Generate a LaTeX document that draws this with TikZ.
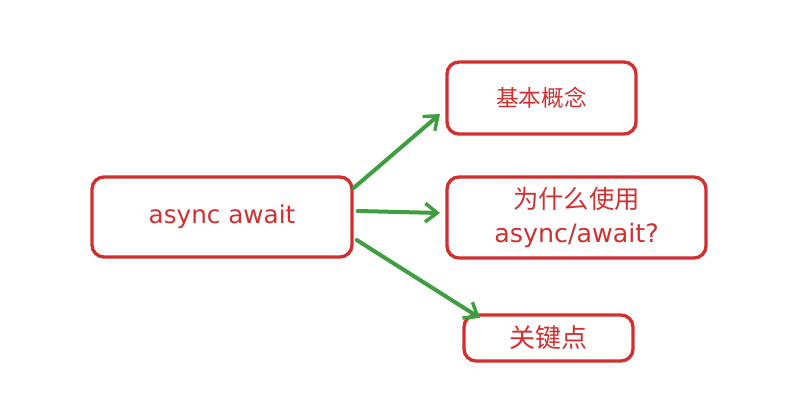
\documentclass[tikz,border=0pt]{standalone}
\usepackage{fontspec}
\setmainfont{DejaVu Sans}
\newfontfamily\cjk{Noto Sans CJK SC}
\usetikzlibrary{arrows.meta}
\definecolor{xred}{HTML}{D0302F}
\definecolor{xgreen}{HTML}{3E9E40}
\tikzset{
  box/.style={draw=xred, line width=2.5pt, rounded corners=9pt, text=xred, align=center, inner sep=0pt},
  conn/.style={draw=xgreen, line width=3pt, line cap=round, -{Straight Barb[length=9pt,width=14pt,line width=2.6pt]}},
}
\begin{document}
\begin{tikzpicture}[x=0.75pt,y=-0.75pt]
\useasboundingbox[fill=white] (0,0) rectangle (797,404);
\node[box, minimum width=195pt, minimum height=60pt, font=\fontsize{18.5}{22}\selectfont] (main) at (222,217) {async await};
\node[box, minimum width=141.75pt, minimum height=54pt, font=\cjk\fontsize{17}{20}\selectfont] (a) at (541.5,98) {基本概念};
\node[box, minimum width=194.25pt, minimum height=60.75pt, font=\fontsize{19}{25.5}\selectfont] (b) at (576.5,217.5) {{\cjk 为什么使用}\\async/await?};
\node[box, minimum width=126.75pt, minimum height=34.5pt, font=\cjk\fontsize{19.5}{22}\selectfont] (c) at (548.5,338) {关键点};
\draw[conn] (main.east) ++(0,-29) -- (440,114);
\draw[conn] (main.east) ++(4,-6) -- ([xshift=-4pt]b.west |- 0,213);
\draw[conn] (main.east) ++(3,23) -- (480,318);
\end{tikzpicture}
\end{document}
